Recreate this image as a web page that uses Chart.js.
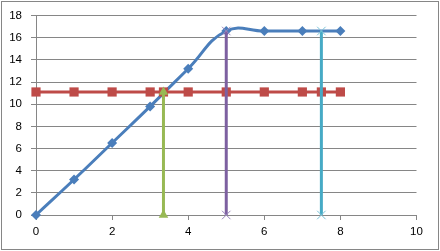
<!DOCTYPE html>
<html>
<head>
<meta charset="utf-8">
<script src="https://cdn.jsdelivr.net/npm/chart.js@4"></script>
<style>
  html, body { margin: 0; padding: 0; background: #fff; }
  #myChart { display: block; }
</style>
</head>
<body>
<canvas id="myChart" width="440" height="251"></canvas>
<script>
// curve (blue)
var curveX = [0, 1, 2, 3, 4, 5, 6, 7, 8]
var curveY = [0, 3.2, 6.5, 9.8, 13.2, 16.6, 16.6, 16.6, 16.6]
// level line (red)
var levelX = [0, 1, 2, 3, 3.35, 4, 5, 6, 7, 7.5, 8]
var levelY = 11.1
// vertical markers
var greenX = 3.35, greenTop = 11.1
var purpleX = 5, purpleTop = 16.6
var cyanX = 7.5, cyanTop = 16.6

var xTicks = [0, 2, 4, 6, 8, 10]
var yTicks = [0, 2, 4, 6, 8, 10, 12, 14, 16, 18]

function pts(xs, ys) {
    return xs.map(function (x, i) { return {x: x, y: Array.isArray(ys) ? ys[i] : ys} })
}

var gridGray = '#868686'

const frame = {
    id: 'frame',
    beforeDraw: function (chart) {
        var ctx = chart.ctx
        ctx.save()
        ctx.fillStyle = '#fff'
        ctx.fillRect(0, 0, chart.width, chart.height)
        ctx.strokeStyle = gridGray
        ctx.lineWidth = 1
        ctx.strokeRect(1.5, 1.5, 437, 248)
        ctx.restore()
    }
}

const data = {
    datasets: [
    {
        label: 'curve',
        data: pts(curveX, curveY),
        borderColor: '#4A7EBB',
        backgroundColor: '#4A7EBB',
        borderWidth: 3,
        tension: 0.45,
        pointStyle: 'rectRot',
        pointRadius: 5,
        pointBorderWidth: 0,
        showLine: true,
        clip: false,
        order: 5
    },
    {
        label: 'level',
        data: pts(levelX, levelY),
        borderColor: '#BE4B48',
        backgroundColor: '#BE4B48',
        borderWidth: 3,
        pointStyle: 'rect',
        pointRadius: 6.5,
        pointBorderWidth: 0,
        showLine: true,
        clip: false,
        order: 4
    },
    {
        label: 'green',
        data: [{x: greenX, y: 0}, {x: greenX, y: greenTop}],
        borderColor: '#98B954',
        backgroundColor: '#98B954',
        borderWidth: 3,
        pointStyle: 'triangle',
        pointRadius: 5.5,
        pointBorderWidth: 0,
        showLine: true,
        clip: false,
        order: 3
    },
    {
        label: 'purple',
        data: [{x: purpleX, y: 0}, {x: purpleX, y: purpleTop}],
        borderColor: '#7D60A0',
        backgroundColor: '#7D60A0',
        borderWidth: 3,
        pointStyle: 'crossRot',
        pointRadius: 6,
        pointBorderWidth: 1,
        pointBorderColor: '#9A85BE',
        showLine: true,
        clip: false,
        order: 2
    },
    {
        label: 'cyan',
        data: [{x: cyanX, y: 0}, {x: cyanX, y: cyanTop}],
        borderColor: '#46AAC5',
        backgroundColor: '#46AAC5',
        borderWidth: 3,
        pointStyle: 'crossRot',
        pointRadius: 6,
        pointBorderWidth: 1,
        pointBorderColor: '#7CC3D8',
        showLine: true,
        clip: false,
        order: 1
    }
    ]
}

const config = {
    type: 'scatter',
    data: data,
    options: {
        responsive: false,
        animation: false,
        layout: { padding: { top: 15.5, right: 23.5, left: 0, bottom: 0 } },
        plugins: { legend: { display: false }, tooltip: { enabled: false } },
        scales: {
            x: {
                type: 'linear',
                min: 0, max: 10,
                afterBuildTicks: function (s) { s.ticks = xTicks.map(function (v) { return {value: v} }) },
                afterFit: function (s) { s.height = 36; s.paddingLeft = 0; s.paddingRight = 0 },
                grid: { drawOnChartArea: false, color: gridGray, tickLength: 5 },
                border: { color: gridGray },
                ticks: { color: '#000', padding: 5, maxRotation: 0,
                         font: { family: 'Liberation Sans', size: 11.5 } }
            },
            y: {
                type: 'linear',
                min: 0, max: 18,
                afterBuildTicks: function (s) { s.ticks = yTicks.map(function (v) { return {value: v} }) },
                afterFit: function (s) { s.width = 36; s.paddingTop = 0; s.paddingBottom = 0 },
                grid: { color: gridGray, tickLength: 5 },
                border: { color: gridGray },
                ticks: { color: '#000', padding: 9,
                         font: { family: 'Liberation Sans', size: 11.5 } }
            }
        }
    },
    plugins: [frame]
}

const myChart = new Chart(document.getElementById('myChart'), config)
</script>
</body>
</html>
